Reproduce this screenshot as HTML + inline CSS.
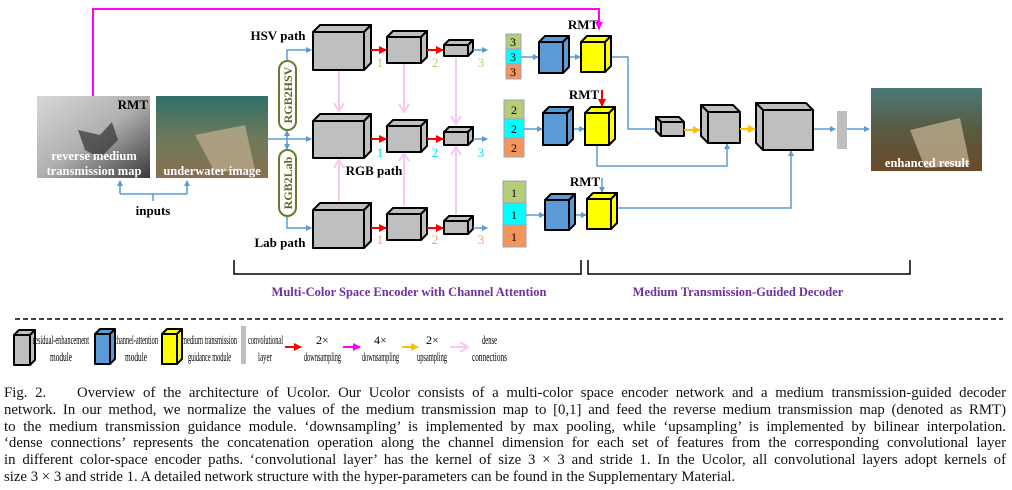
<!DOCTYPE html>
<html><head><meta charset="utf-8"><style>
html,body{margin:0;padding:0;background:#fff;}
svg{display:block;font-family:"Liberation Serif",serif;}
.c{stroke:#000;stroke-width:2;stroke-linejoin:round;}
.cap{position:absolute;left:4px;width:1002px;font-family:"Liberation Serif",serif;font-size:14.8px;line-height:16.8px;color:#111;}
.cap div{text-align:justify;text-align-last:justify;white-space:nowrap;height:16.8px;}
.cap div.l{text-align-last:left;}
</style></head><body>
<div style="position:relative;width:1012px;height:490px;overflow:hidden">
<svg width="1012" height="380" viewBox="0 0 1012 380">
<defs>
<linearGradient id="g1" x1="0" y1="0" x2="1" y2="1"><stop offset="0" stop-color="#d8d8d8"/><stop offset="0.5" stop-color="#b0b0b0"/><stop offset="1" stop-color="#3a3a3a"/></linearGradient>
<linearGradient id="g2" x1="0" y1="0" x2="0" y2="1"><stop offset="0" stop-color="#2f6f6a"/><stop offset="0.5" stop-color="#6c7a5a"/><stop offset="1" stop-color="#8a7050"/></linearGradient>
<linearGradient id="g3" x1="0" y1="0" x2="0" y2="1"><stop offset="0" stop-color="#4a7a7a"/><stop offset="0.5" stop-color="#5a5a40"/><stop offset="1" stop-color="#6a4a2a"/></linearGradient>
<marker id="ab" markerWidth="6" markerHeight="6" refX="5" refY="3" orient="auto" markerUnits="userSpaceOnUse"><path d="M0,0L6,3L0,6z" fill="#5b9bd5"/></marker>
<marker id="ar" markerWidth="8" markerHeight="8" refX="7" refY="4" orient="auto" markerUnits="userSpaceOnUse"><path d="M0,0L8,4L0,8z" fill="#f00"/></marker>
<marker id="ao" markerWidth="8" markerHeight="8" refX="7" refY="4" orient="auto" markerUnits="userSpaceOnUse"><path d="M0,0L8,4L0,8z" fill="#ffc000"/></marker>
<marker id="am" markerWidth="8" markerHeight="8" refX="7" refY="4" orient="auto" markerUnits="userSpaceOnUse"><path d="M0,0L8,4L0,8z" fill="#f0f"/></marker>
<marker id="ap" markerWidth="12" markerHeight="12" refX="9" refY="6" orient="auto" markerUnits="userSpaceOnUse"><path d="M1,1L9,6L1,11" fill="none" stroke="#f8c8f0" stroke-width="2"/></marker>
</defs>

<polyline points="93,97 93,9 599,9 599,29" fill="none" stroke="#f0f" stroke-width="2" marker-end="url(#am)"/>

<rect x="37" y="96" width="113" height="82" fill="url(#g1)"/>
<path d="M78,130 L100,135 L112,122 L118,140 L100,158 L85,150z" fill="#333" opacity="0.7"/>
<text x="148" y="109" font-size="13" font-weight="bold" text-anchor="end">RMT</text>
<text x="94" y="160" font-size="12.5" font-weight="bold" fill="#fff" text-anchor="middle">reverse medium</text>
<text x="94" y="175" font-size="12.5" font-weight="bold" fill="#fff" text-anchor="middle">transmission map</text>
<rect x="156" y="96" width="112" height="82" fill="url(#g2)"/>
<path d="M195,135 L245,125 L255,170 L215,172z" fill="#b8a88a" opacity="0.8"/>
<text x="212" y="175" font-size="12.5" font-weight="bold" fill="#fff" text-anchor="middle">underwater image</text>
<rect x="871" y="88" width="111" height="83" fill="url(#g3)"/>
<path d="M910,130 L960,118 L970,165 L925,168z" fill="#c8b898" opacity="0.7"/>
<text x="927" y="167" font-size="12.5" font-weight="bold" fill="#fff" text-anchor="middle">enhanced result</text>

<polyline points="120,194 187,194" fill="none" stroke="#5b9bd5" stroke-width="1.5"/>
<line x1="120" y1="194" x2="120" y2="181" stroke="#5b9bd5" stroke-width="1.5" marker-end="url(#ab)"/>
<line x1="187" y1="194" x2="187" y2="181" stroke="#5b9bd5" stroke-width="1.5" marker-end="url(#ab)"/>
<line x1="153" y1="194" x2="153" y2="201" stroke="#5b9bd5" stroke-width="1.5"/>
<text x="153" y="215" font-size="13" font-weight="bold" text-anchor="middle">inputs</text>

<line x1="268" y1="139" x2="311" y2="139" stroke="#5b9bd5" stroke-width="1.5" marker-end="url(#ab)"/>
<line x1="287" y1="139" x2="287" y2="131" stroke="#5b9bd5" stroke-width="1.5" marker-end="url(#ab)"/>
<line x1="287" y1="139" x2="287" y2="149" stroke="#5b9bd5" stroke-width="1.5" marker-end="url(#ab)"/>
<polyline points="287,61 287,50 311,50" fill="none" stroke="#5b9bd5" stroke-width="1.5" marker-end="url(#ab)"/>
<polyline points="287,215 287,228 311,228" fill="none" stroke="#5b9bd5" stroke-width="1.5" marker-end="url(#ab)"/>
<rect x="279" y="61" width="17" height="69" rx="8.5" fill="#fff" stroke="#6b7a2a" stroke-width="2"/>
<rect x="279" y="150" width="17" height="66" rx="8.5" fill="#fff" stroke="#6b7a2a" stroke-width="2"/>
<text transform="translate(292,95) rotate(-90)" font-size="12" font-weight="bold" fill="#5a6a20" text-anchor="middle">RGB2HSV</text>
<text transform="translate(292,183) rotate(-90)" font-size="12" font-weight="bold" fill="#5a6a20" text-anchor="middle">RGB2Lab</text>

<text x="278" y="40" font-size="13" font-weight="bold" text-anchor="middle">HSV path</text>
<text x="374" y="175" font-size="13" font-weight="bold" text-anchor="middle">RGB path</text>
<text x="280" y="247" font-size="13" font-weight="bold" text-anchor="middle">Lab path</text>

<g stroke="#f8c8f0" stroke-width="2" fill="none">
<line x1="339" y1="71" x2="339" y2="111" marker-end="url(#ap)"/>
<line x1="339" y1="201" x2="339" y2="160" marker-end="url(#ap)"/>
<line x1="404" y1="64" x2="404" y2="112" marker-end="url(#ap)"/>
<line x1="404" y1="206" x2="404" y2="153" marker-end="url(#ap)"/>
<line x1="456" y1="57" x2="456" y2="124" marker-end="url(#ap)"/>
<line x1="456" y1="214" x2="456" y2="147" marker-end="url(#ap)"/>
</g>

<g class="c" fill="#bfbfbf">
<rect x="313" y="32" width="51" height="38"/><polygon points="313,32 320,25 371,25 364,32"/><polygon points="364,32 371,25 371,63 364,70"/>
<rect x="313" y="121" width="51" height="37"/><polygon points="313,121 320,114 371,114 364,121"/><polygon points="364,121 371,114 371,151 364,158"/>
<rect x="313" y="210" width="51" height="38"/><polygon points="313,210 320,203 371,203 364,210"/><polygon points="364,210 371,203 371,241 364,248"/>
<rect x="387" y="37" width="34" height="26"/><polygon points="387,37 393,31 427,31 421,37"/><polygon points="421,37 427,31 427,57 421,63"/>
<rect x="387" y="126" width="34" height="26"/><polygon points="387,126 393,120 427,120 421,126"/><polygon points="421,126 427,120 427,146 421,152"/>
<rect x="387" y="214" width="34" height="26"/><polygon points="387,214 393,208 427,208 421,214"/><polygon points="421,214 427,208 427,234 421,240"/>
<rect x="444" y="45" width="24" height="11"/><polygon points="444,45 449,40 473,40 468,45"/><polygon points="468,45 473,40 473,51 468,56"/>
<rect x="444" y="132" width="24" height="13"/><polygon points="444,132 449,127 473,127 468,132"/><polygon points="468,132 473,127 473,140 468,145"/>
<rect x="444" y="221" width="24" height="13"/><polygon points="444,221 449,216 473,216 468,221"/><polygon points="468,221 473,216 473,229 468,234"/>
</g>
<g stroke="#f00" stroke-width="2">
<line x1="371" y1="50" x2="386" y2="50" marker-end="url(#ar)"/>
<line x1="371" y1="139" x2="386" y2="139" marker-end="url(#ar)"/>
<line x1="371" y1="228" x2="386" y2="228" marker-end="url(#ar)"/>
<line x1="427" y1="50" x2="443" y2="50" marker-end="url(#ar)"/>
<line x1="427" y1="139" x2="443" y2="139" marker-end="url(#ar)"/>
<line x1="427" y1="228" x2="443" y2="228" marker-end="url(#ar)"/>
</g>
<g stroke="#5b9bd5" stroke-width="1.5">
<line x1="473" y1="50" x2="487" y2="50" marker-end="url(#ab)"/>
<line x1="473" y1="139" x2="487" y2="139" marker-end="url(#ab)"/>
<line x1="473" y1="228" x2="487" y2="228" marker-end="url(#ab)"/>
</g>
<g font-size="13" text-anchor="middle">
<text x="380" y="67" fill="#b5cc78">1</text><text x="435" y="67" fill="#b5cc78">2</text><text x="481" y="67" fill="#b5cc78">3</text>
<text x="380" y="157" fill="#00e0f0">1</text><text x="435" y="157" fill="#00e0f0">2</text><text x="481" y="157" fill="#00e0f0">3</text>
<text x="380" y="244" fill="#f4a070">1</text><text x="435" y="244" fill="#f4a070">2</text><text x="481" y="244" fill="#f4a070">3</text>
</g>

<g stroke="#a0a0c0" stroke-width="1">
<rect x="506" y="34" width="15" height="15" fill="#b5cc78"/><rect x="506" y="49" width="15" height="15" fill="#00ffff"/><rect x="506" y="64" width="15" height="15" fill="#f4955a"/>
<rect x="504" y="100" width="20" height="19" fill="#b5cc78"/><rect x="504" y="119" width="20" height="19" fill="#00ffff"/><rect x="504" y="138" width="20" height="19" fill="#f4955a"/>
<rect x="503" y="181" width="23" height="22" fill="#b5cc78"/><rect x="503" y="203" width="23" height="22" fill="#00ffff"/><rect x="503" y="225" width="23" height="22" fill="#f4955a"/>
</g>
<g font-size="12" text-anchor="middle">
<text x="513" y="46">3</text><text x="513" y="61">3</text><text x="513" y="76">3</text>
<text x="514" y="114">2</text><text x="514" y="133">2</text><text x="514" y="152">2</text>
<text x="514" y="197">1</text><text x="514" y="219">1</text><text x="514" y="241">1</text>
</g>
<g stroke="#5b9bd5" stroke-width="1.5" fill="none">
<line x1="521" y1="57" x2="538" y2="57" marker-end="url(#ab)"/>
<line x1="524" y1="129" x2="542" y2="129" marker-end="url(#ab)"/>
<line x1="526" y1="215" x2="544" y2="215" marker-end="url(#ab)"/>
<line x1="569" y1="57" x2="580" y2="57" marker-end="url(#ab)"/>
<line x1="573" y1="129" x2="584" y2="129" marker-end="url(#ab)"/>
<line x1="575" y1="215" x2="586" y2="215" marker-end="url(#ab)"/>
<line x1="602" y1="178" x2="602" y2="192" marker-end="url(#ab)"/>
<polyline points="611,57 628,57 628,129 660,129" marker-end="url(#ab)"/>
<polyline points="597,145 597,166 727,166 727,144" marker-end="url(#ab)"/>
<polyline points="614,208 791,208 791,151" marker-end="url(#ab)"/>
<line x1="813" y1="129" x2="835" y2="129" marker-end="url(#ab)"/>
<line x1="847" y1="129" x2="869" y2="129" marker-end="url(#ab)"/>
</g>
<line x1="602" y1="90" x2="602" y2="106" stroke="#f00" stroke-width="2" marker-end="url(#ar)"/>
<g font-size="13" font-weight="bold" text-anchor="middle">
<text x="583" y="29">RMT</text><text x="584" y="99">RMT</text><text x="585" y="186">RMT</text>
</g>

<g class="c">
<g fill="#5b9bd5">
<rect x="539" y="42" width="24" height="31"/><polygon points="539,42 545,36 569,36 563,42"/><polygon points="563,42 569,36 569,67 563,73"/>
<rect x="543" y="113" width="24" height="32"/><polygon points="543,113 549,107 573,107 567,113"/><polygon points="567,113 573,107 573,139 567,145"/>
<rect x="545" y="200" width="24" height="30"/><polygon points="545,200 551,194 575,194 569,200"/><polygon points="569,200 575,194 575,224 569,230"/>
</g>
<g fill="#ffff00">
<rect x="581" y="42" width="24" height="30"/><polygon points="581,42 587,36 611,36 605,42"/><polygon points="605,42 611,36 611,66 605,72"/>
<rect x="585" y="113" width="24" height="32"/><polygon points="585,113 591,107 615,107 609,113"/><polygon points="609,113 615,107 615,139 609,145"/>
<rect x="587" y="199" width="24" height="30"/><polygon points="587,199 593,193 617,193 611,199"/><polygon points="611,199 617,193 617,223 611,229"/>
</g>
<g fill="#bfbfbf">
<rect x="661" y="122" width="23" height="14"/><polygon points="661,122 656,117 679,117 684,122"/><polygon points="661,122 656,117 656,131 661,136"/>
<rect x="708" y="112" width="32" height="31"/><polygon points="708,112 701,105 733,105 740,112"/><polygon points="708,112 701,105 701,136 708,143"/>
<rect x="763" y="110" width="50" height="40"/><polygon points="763,110 756,103 806,103 813,110"/><polygon points="763,110 756,103 756,143 763,150"/>
</g>
</g>
<g stroke="#ffc000" stroke-width="2">
<line x1="684" y1="130" x2="700" y2="130" marker-end="url(#ao)"/>
<line x1="740" y1="129" x2="755" y2="129" marker-end="url(#ao)"/>
</g>
<rect x="837" y="111" width="10" height="38" fill="#bfbfbf"/>

<polyline points="234,260 234,274 581,274 581,260" fill="none" stroke="#000" stroke-width="1.5"/>
<polyline points="588,260 588,274 910,274 910,260" fill="none" stroke="#000" stroke-width="1.5"/>
<text x="409" y="296" font-size="12.5" font-weight="bold" fill="#7030a0" text-anchor="middle">Multi-Color Space Encoder with Channel Attention</text>
<text x="738" y="296" font-size="12.5" font-weight="bold" fill="#7030a0" text-anchor="middle">Medium Transmission-Guided Decoder</text>
<line x1="15" y1="319" x2="1003" y2="319" stroke="#000" stroke-width="1.5" stroke-dasharray="5,3"/>

<g class="c">
<g fill="#bfbfbf"><rect x="14" y="335" width="16" height="30"/><polygon points="14,335 19,330 35,330 30,335"/><polygon points="30,335 35,330 35,360 30,365"/></g>
<g fill="#5b9bd5"><rect x="95" y="334" width="15" height="30"/><polygon points="95,334 100,329 115,329 110,334"/><polygon points="110,334 115,329 115,359 110,364"/></g>
<g fill="#ffff00"><rect x="162" y="334" width="15" height="30"/><polygon points="162,334 167,329 182,329 177,334"/><polygon points="177,334 182,329 182,359 177,364"/></g>
</g>
<rect x="241" y="326" width="5" height="38" fill="#bfbfbf"/>
<line x1="285" y1="347" x2="301" y2="347" stroke="#f00" stroke-width="2" marker-end="url(#ar)"/>
<line x1="343" y1="347" x2="360" y2="347" stroke="#f0f" stroke-width="2" marker-end="url(#am)"/>
<line x1="402" y1="347" x2="418" y2="347" stroke="#ffc000" stroke-width="2" marker-end="url(#ao)"/>
<line x1="450" y1="347" x2="468" y2="347" stroke="#f8c8f0" stroke-width="2" marker-end="url(#ap)"/>
<g font-size="13">
<text x="33" y="344" textLength="56" lengthAdjust="spacingAndGlyphs">residual-enhancement</text><text x="50" y="361" textLength="22" lengthAdjust="spacingAndGlyphs">module</text>
<text x="114" y="344" textLength="44" lengthAdjust="spacingAndGlyphs">channel-attention</text><text x="125" y="361" textLength="22" lengthAdjust="spacingAndGlyphs">module</text>
<text x="182" y="344" textLength="55" lengthAdjust="spacingAndGlyphs">medium transmission</text><text x="188" y="361" textLength="43" lengthAdjust="spacingAndGlyphs">guidance module</text>
<text x="248" y="344" textLength="35" lengthAdjust="spacingAndGlyphs">convolutional</text><text x="258" y="361" textLength="14" lengthAdjust="spacingAndGlyphs">layer</text>
<text x="316" y="344" font-size="12">2×</text><text x="304" y="361" textLength="37" lengthAdjust="spacingAndGlyphs">downsampling</text>
<text x="374" y="344" font-size="12">4×</text><text x="362" y="361" textLength="37" lengthAdjust="spacingAndGlyphs">downsampling</text>
<text x="426" y="344" font-size="12">2×</text><text x="417" y="361" textLength="30" lengthAdjust="spacingAndGlyphs">upsampling</text>
<text x="482" y="344" textLength="15" lengthAdjust="spacingAndGlyphs">dense</text><text x="472" y="361" textLength="35" lengthAdjust="spacingAndGlyphs">connections</text>
</g>
</svg>
<div class="cap" style="top:385px">
<div>Fig. 2.&nbsp;&nbsp;&nbsp; Overview of the architecture of Ucolor. Our Ucolor consists of a multi-color space encoder network and a medium transmission-guided decoder</div>
<div>network. In our method, we normalize the values of the medium transmission map to [0,1] and feed the reverse medium transmission map (denoted as RMT)</div>
<div>to the medium transmission guidance module. ‘downsampling’ is implemented by max pooling, while ‘upsampling’ is implemented by bilinear interpolation.</div>
<div>‘dense connections’ represents the concatenation operation along the channel dimension for each set of features from the corresponding convolutional layer</div>
<div>in different color-space encoder paths. ‘convolutional layer’ has the kernel of size 3 × 3 and stride 1. In the Ucolor, all convolutional layers adopt kernels of</div>
<div class="l">size 3 × 3 and stride 1. A detailed network structure with the hyper-parameters can be found in the Supplementary Material.</div>
</div>
</div>
</body></html>
